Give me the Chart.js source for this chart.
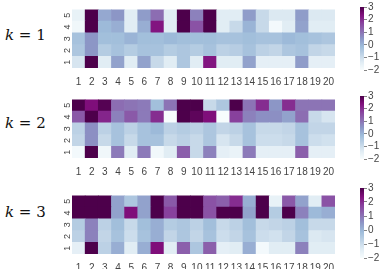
<!DOCTYPE html>
<html>
<head>
<meta charset="utf-8">
<script src="https://cdn.jsdelivr.net/npm/chart.js@4"></script>
<style>
  html, body { margin: 0; padding: 0; background: #fff; }
  body { width: 382px; height: 269px; position: relative; overflow: hidden; }
  .box { position: absolute; }
  .klab { position: absolute; left: 5px; font-family: "DejaVu Serif", serif; font-size: 15px; color: #111; }
  .klab i { font-family: "DejaVu Serif", serif; }
</style>
</head>
<body>
<div class="klab" style="top:26px"><i>k</i> = 1</div>
<div class="klab" style="top:114px"><i>k</i> = 2</div>
<div class="klab" style="top:203px"><i>k</i> = 3</div>

<div class="box" style="left:56px;top:0px;width:286px;height:86px"><canvas id="hm1"></canvas></div>
<div class="box" style="left:56px;top:90px;width:286px;height:86px"><canvas id="hm2"></canvas></div>
<div class="box" style="left:56px;top:186px;width:286px;height:86px"><canvas id="hm3"></canvas></div>

<div class="box" style="left:360px;top:0px;width:22px;height:77px"><canvas id="cb1"></canvas></div>
<div class="box" style="left:360px;top:89px;width:22px;height:77px"><canvas id="cb2"></canvas></div>
<div class="box" style="left:360px;top:181px;width:22px;height:84px"><canvas id="cb3"></canvas></div>

<script>
const columns = ['1','2','3','4','5','6','7','8','9','10','11','12','13','14','15','16','17','18','19','20'];
const rows = [1, 2, 3, 4, 5];
const colorTicks = [-2, -1, 0, 1, 2, 3];

// values per row (row 1 first), 20 columns each
const k1 = [
  [-1.2, 3, -1.4, 0.3, -1.4, 0.3, -0.9, -1.4, -0.4, -1.4, 2.3, -1.4, -1.4, 0.3, -1.5, -1.5, -1.5, 0.4, -1.5, -1.5],
  [-0.4, 0.5, -0.55, -0.3, -0.55, -0.3, -0.3, -0.55, -0.4, -0.55, -0.3, -0.7, -0.6, -0.3, -0.7, -0.8, -0.4, -0.3, -0.8, -0.9],
  [-0.3, 0.5, -0.2, -0.2, 0, -0.2, -0.2, -0.1, -0.2, -0.2, -0.2, -0.3, -0.3, -0.2, -0.3, -0.3, -0.1, -0.2, -0.3, -0.4],
  [-1.8, 3, -0.1, 0.1, -1.4, 0.1, 2.3, -1.4, 3, 1.5, 3, -1.4, -0.9, 0, -0.9, -1.9, -1.4, 0.3, -1.4, -1.4],
  [-1.6, 3, 0.2, 0.5, -1.4, 0.4, 1.1, -1.4, 3, 0.8, 3, -1.4, -1.4, 0.4, -0.9, -1.3, -1.3, 0.4, -1.3, -1.3]
];
const k2 = [
  [-1.9, 3, -1.8, 0.9, -1.4, 0.9, -1.85, -1.4, 1.3, -0.9, 0.8, -1.5, -1.65, 0.9, -1.5, -1.5, -1.5, 1.3, -1.5, -1.5],
  [-0.8, 0.6, -0.9, -0.3, -0.9, -0.3, -0.3, -0.9, -0.7, -0.9, -0.4, -1.2, -0.9, -0.3, -1.0, -1.0, -0.9, -0.3, -1.0, -1.1],
  [-0.7, 0.6, -0.7, -0.3, -0.7, -0.3, -0.1, -0.7, -0.55, -0.7, -0.4, -0.8, -0.7, -0.3, -0.9, -0.9, -0.8, -0.3, -0.8, -0.8],
  [1.4, 3, 2.1, 0.8, 1.4, 0.9, 2.0, -2, 3, 2.8, 2.4, -2, 1.75, 0.8, 0.6, 0.6, 0.3, 1.1, -0.9, -1.2],
  [3, 2.4, 2.9, 1.1, 1.0, 0.9, -0.2, 1.0, 3, 3, -0.9, -0.4, 3, 1.0, 2.0, 0.5, 2.0, 1.0, 1.0, 1.0]
];
const k3 = [
  [-1.5, 3, -0.7, 0.1, -1.4, 0.1, 2.4, -1.4, 1.3, -0.4, 1.3, -1.5, -1.4, 0.1, -1.9, -1.4, -1.4, 0.8, -1.4, -1.4],
  [-0.7, 0.8, -0.8, -0.3, -1.0, -0.3, 0.1, -0.8, -0.4, -0.8, -0.3, -1.0, -0.8, -0.3, -1.0, -1.1, -0.8, -0.3, -1.3, -1.2],
  [-0.55, 0.8, -0.7, -0.2, -0.9, -0.2, 0.1, -0.55, -0.4, -0.7, -0.2, -0.9, -0.7, -0.2, -0.9, -0.8, -0.7, -0.2, -0.9, -0.9],
  [3, 3, 3, 0.3, 2.4, 0.3, 3, 1.75, 3, 3, 1.5, 3, 3, 0.3, 3, -0.55, 3, 0.8, -0.1, 0.1],
  [3, 3, 3, 0.3, -0.4, 0.3, 3, 1.4, 3, 3, 1.5, 1.3, 2.0, 0.1, 3, -1.6, 1.4, 0.3, -1.4, 1.5]
];

// BuPu colour map, vmin -2, vmax 3
const bupu = ['#f7fcfd', '#e0ecf4', '#bfd3e6', '#9ebcda', '#8c96c6', '#8c6bb1', '#88419d', '#810f7c', '#4d004b'];
const vmin = -2, vmax = 3;

function hexToRgb(h) {
  return [parseInt(h.slice(1, 3), 16), parseInt(h.slice(3, 5), 16), parseInt(h.slice(5, 7), 16)];
}

function colorFor(v) {
  let t = (v - vmin) / (vmax - vmin);
  t = Math.max(0, Math.min(1, t));
  const pos = t * (bupu.length - 1);
  const i = Math.min(Math.floor(pos), bupu.length - 2);
  const f = pos - i;
  const a = hexToRgb(bupu[i]), b = hexToRgb(bupu[i + 1]);
  const c = a.map((x, j) => Math.round(x + (b[j] - x) * f));
  return `rgb(${c[0]}, ${c[1]}, ${c[2]})`;
}

const tickFont = { family: 'Liberation Sans, Arial, sans-serif', size: 10 };
const tickColor = '#444';

function createHeatmap(id, values) {
  const ctx = document.getElementById(id).getContext('2d');
  const datasets = rows.map((r, ri) => ({
    data: values[ri].map(() => [r - 0.5, r + 0.5]),
    backgroundColor: values[ri].map(v => colorFor(v)),
    borderWidth: 0,
    barPercentage: 1,
    categoryPercentage: 1,
    grouped: false,
  }));
  return new Chart(ctx, {
    type: 'bar',
    data: { labels: columns, datasets: datasets },
    options: {
      responsive: true,
      maintainAspectRatio: false,
      animation: false,
      layout: { padding: 0 },
      plugins: { legend: { display: false }, tooltip: { enabled: false } },
      scales: {
        x: {
          grid: { display: false, drawTicks: false },
          border: { display: false },
          ticks: { font: tickFont, color: tickColor, padding: 8, maxRotation: 0, autoSkip: false },
          afterFit: axis => { axis.height = 18; },
        },
        y: {
          min: 0.5,
          max: 5.5,
          grid: { display: false, drawTicks: false },
          border: { display: false },
          ticks: { font: { family: tickFont.family, size: 9 }, color: tickColor, padding: 4, minRotation: 90, maxRotation: 90, labelOffset: -2.5 },
          afterBuildTicks: axis => { axis.ticks = rows.map(v => ({ value: v })); },
          afterFit: axis => { axis.width = 16; },
        },
      },
    },
  });
}

function createColorbar(id) {
  const ctx = document.getElementById(id).getContext('2d');
  return new Chart(ctx, {
    type: 'bar',
    data: {
      labels: [''],
      datasets: [{
        data: [[vmin, vmax]],
        borderWidth: 0,
        barPercentage: 1,
        categoryPercentage: 1,
        backgroundColor: context => {
          const area = context.chart.chartArea;
          if (!area) return bupu[4];
          const g = context.chart.ctx.createLinearGradient(0, area.bottom, 0, area.top);
          bupu.forEach((c, i) => g.addColorStop(i / (bupu.length - 1), c));
          return g;
        },
      }],
    },
    options: {
      responsive: true,
      maintainAspectRatio: false,
      animation: false,
      layout: { padding: { top: 5, bottom: 5 } },
      plugins: { legend: { display: false }, tooltip: { enabled: false } },
      scales: {
        x: { display: false },
        y: {
          position: 'right',
          min: vmin,
          max: vmax,
          grid: { drawOnChartArea: false, tickLength: 3, color: '#666', tickWidth: 0.8 },
          border: { display: false },
          ticks: {
            font: tickFont, color: tickColor, padding: 1, autoSkip: false,
            callback: v => String(v).replace('-', '\u2212'),
          },
          afterBuildTicks: axis => { axis.ticks = colorTicks.map(v => ({ value: v })); },
          afterFit: axis => { axis.width = 18; },
        },
      },
    },
  });
}

createHeatmap('hm1', k1);
createHeatmap('hm2', k2);
createHeatmap('hm3', k3);
createColorbar('cb1');
createColorbar('cb2');
createColorbar('cb3');
</script>
</body>
</html>
